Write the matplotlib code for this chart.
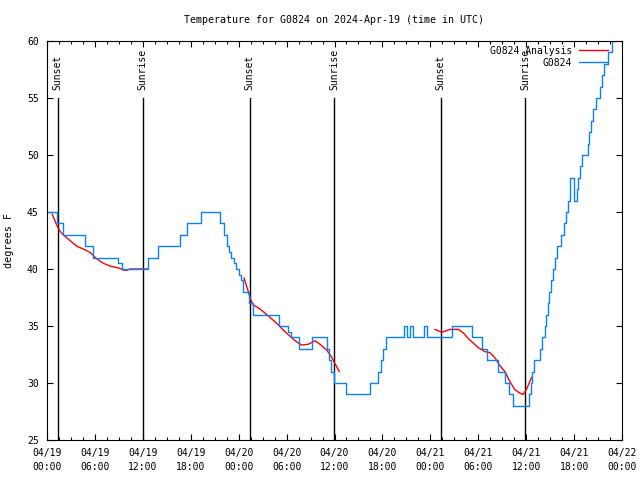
import matplotlib
matplotlib.use("Agg")
import matplotlib.pyplot as plt
import matplotlib.dates as mdates
from matplotlib.ticker import AutoMinorLocator
import pandas as pd

START = pd.Timestamp("2024-04-19 00:00")

# observed temperature (hours after start, degrees F), drawn as steps
blue_hours = [0, 1.2, 2.0, 4.7, 5.8, 8.9, 9.4, 12.7, 13.9, 16.6, 17.5, 19.3,
              21.6, 22.2, 22.6, 22.8, 23.1, 23.4, 23.7, 24.0, 24.3, 24.6, 25.3, 25.8,
              29.0, 30.2, 30.6, 31.6, 33.2, 35.0, 35.3, 35.6, 35.9, 37.5, 40.5,
              41.4, 41.8, 42.1, 42.5, 44.74, 45.04, 45.45, 45.79, 47.25, 47.55,
              50.7, 53.2, 54.5, 55.1, 56.5, 57.4, 57.8, 58.4, 60.35, 60.55, 60.75,
              60.95, 61.7, 62.0, 62.3, 62.5, 62.7, 62.85, 63.1, 63.3, 63.6, 63.9,
              64.3, 64.7, 65.0, 65.3, 65.45, 65.55, 65.95, 66.05, 66.35, 66.55,
              66.8, 67.05, 67.7, 67.9, 68.1, 68.35, 68.7, 69.2, 69.5, 69.75, 70.2,
              70.8, 71.1]
blue_temps = [45, 44, 43, 42, 41, 40.5, 40, 41, 42, 43, 44, 45,
              44, 43, 42, 41.5, 41, 40.5, 40, 39.5, 39, 38, 37, 36,
              35, 34.5, 34, 33, 34, 33, 32, 31, 30, 29, 30,
              31, 32, 33, 34, 35, 34, 35, 34, 35, 34,
              35, 34, 33, 32, 31, 30, 29, 28, 29, 30, 31,
              32, 33, 34, 35, 36, 37, 38, 39, 40, 41, 42,
              43, 44, 45, 46, 47, 48, 47, 46, 47, 48,
              49, 50, 51, 52, 53, 54, 55, 56, 57, 58, 59,
              60, 60]

# analysis segments
red1_hours = [0.66, 1.21, 1.63, 2.04, 2.88, 3.72, 4.55, 5.38, 6.22, 7.05, 7.89,
              9.14, 9.55, 10.06, 10.39, 12.68]
red1_temps = [44.8, 43.86, 43.3, 43.0, 42.5, 42.0, 41.75, 41.46, 40.9, 40.5, 40.26,
              40.06, 39.9, 39.9, 40.0, 40.0]
red2_hours = [24.67, 25.01, 25.21, 25.51, 25.83, 26.46, 27.09, 27.92, 28.76, 29.59,
              30.43, 31.27, 31.89, 32.72, 33.56, 34.18, 35.02, 35.65, 36.06, 36.6]
red2_temps = [39.2, 38.45, 38.0, 37.3, 36.84, 36.6, 36.25, 35.76, 35.24, 34.65,
              34.1, 33.6, 33.33, 33.4, 33.7, 33.4, 32.9, 32.25, 31.7, 31.0]
red3_hours = [48.58, 49.42, 50.05, 50.46, 51.5, 52.13, 52.75, 53.38, 54.01, 54.85,
              55.47, 56.1, 56.73, 57.35, 57.98, 58.6, 59.23, 59.64, 60.07, 60.69]
red3_temps = [34.7, 34.45, 34.6, 34.7, 34.7, 34.4, 33.9, 33.5, 33.1, 32.75,
              32.66, 32.2, 31.5, 31.0, 30.1, 29.4, 29.1, 29.0, 29.5, 30.5]

sun_hours = [1.35, 12.0, 25.4, 35.95, 49.3, 59.9]
sun_labels = ["Sunset", "Sunrise", "Sunset", "Sunrise", "Sunset", "Sunrise"]


def toTime(hours):
    return START + pd.to_timedelta(hours, unit="h")


plt.rcParams["font.family"] = "DejaVu Sans Mono"
plt.rcParams["font.size"] = 7

fig = plt.figure(figsize=(6.4, 4.8), dpi=100)
ax = fig.add_axes([47 / 640, 1 - 440 / 480, 575 / 640, 399 / 480])

for h, lab in zip(sun_hours, sun_labels):
    t = toTime(h)
    ax.plot([t, t], [25, 55.0], color="k", lw=1)
    ax.text(t, 55.7, lab, rotation=90, ha="center", va="bottom", fontsize=7)

ax.plot(toTime(red1_hours), red1_temps, color="#ff0000", lw=1, label="G0824 Analysis")
ax.plot(toTime(red2_hours), red2_temps, color="#ff0000", lw=1)
ax.plot(toTime(red3_hours), red3_temps, color="#ff0000", lw=1)
ax.plot(toTime(blue_hours), blue_temps, color="#0a80ff", lw=1, drawstyle="steps-post",
        label="G0824")

ax.set_xlim(START, toTime(72))
ax.set_ylim(25, 60)
ax.set_yticks(range(25, 61, 5))
ax.xaxis.set_major_locator(mdates.HourLocator(byhour=[0, 6, 12, 18]))
ax.xaxis.set_minor_locator(AutoMinorLocator(4))
ax.xaxis.set_major_formatter(mdates.DateFormatter("%m/%d\n%H:%M"))
ax.tick_params(which="both", direction="in", top=True, right=True, width=0.8)
ax.tick_params(which="major", length=4, labelsize=7, pad=6)
ax.tick_params(which="minor", length=2.5)
for lbl in ax.get_xticklabels():
    lbl.set_linespacing(1.5)
for s in ax.spines.values():
    s.set_linewidth(0.8)

ax.set_ylabel("degrees F", fontsize=7.3)
ax.yaxis.set_label_coords(-33 / 575, 0.5)
ax.set_title("Temperature for G0824 on 2024-Apr-19 (time in UTC)", fontsize=7.2, pad=13)

ax.legend(loc="upper right", bbox_to_anchor=(0.988, 1.005), frameon=False,
          markerfirst=False, handlelength=3.0, handletextpad=0.7, labelspacing=0.2,
          borderaxespad=0.3, fontsize=7)

fig.savefig("out.png", dpi=100)
